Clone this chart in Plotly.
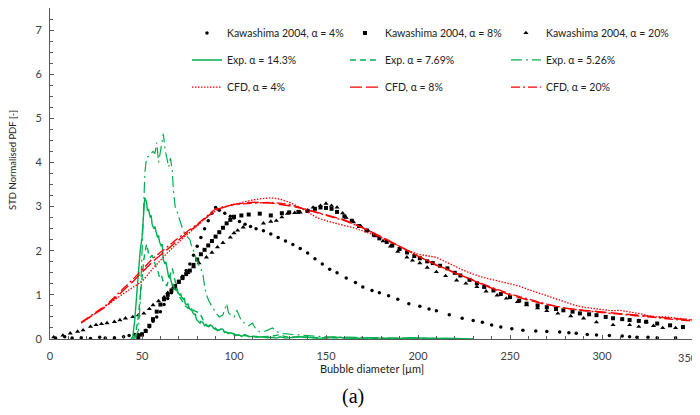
import plotly.graph_objects as go

# ---------------- data ----------------
kaw4 = [(3,0.02),(8,0.05),(12,0.02),(17,0.03),(22,0.01),(27,0.04),(30,0.02),(35,0.03),(40,0.05),
        (43,0.08),(46,0.1),(48,0.1),(50,0.12),(52,0.2),(54,0.28),(56,0.4),(58,0.5),(60,0.62),
        (62,0.78),(64,0.92),(66,1.05),(68,1.15),(70,1.3),(72,1.42),(74,1.55),(76,1.7),(78,1.9),
        (80,2.1),(82,2.3),(84,2.5),(86,2.68),(88,2.85),(90,2.98),(92,2.92),(95,2.85),(98,2.78),
        (100,2.74),(103,2.66),(106,2.6),(109,2.55),(112,2.5),(116,2.45),(120,2.38),(124,2.3),
        (128,2.22),(132,2.14),(136,2.05),(140,1.95),(144,1.82),(148,1.7),(152,1.58),(156,1.5),
        (161,1.38),(166,1.28),(170,1.18),(175,1.1),(179,1.05),(184,0.98),(189,0.9),(195,0.8),
        (201,0.74),(206,0.68),(210,0.64),(217,0.55),(224,0.47),(230,0.42),(235,0.38),(240,0.32),
        (245,0.27),(251,0.23),(257,0.2),(264,0.18),(270,0.17),(277,0.16),(282,0.14),(286,0.13),
        (292,0.1),(297,0.09),(304,0.08),(311,0.07),(315,0.05),(319,0.04),(325,0.04),(330,0.03),
        (340,0.03),(350,0.02)]

kaw8 = [(48,0.04),(50,0.1),(52,0.18),(54,0.3),(56,0.45),(58,0.62),(60,0.78),(62,0.9),(64,1.0),
        (66,1.1),(68,1.2),(70,1.3),(72,1.38),(74,1.47),(76,1.55),(78,1.68),(80,1.8),(82,1.92),
        (84,2.02),(86,2.12),(88,2.22),(90,2.32),(92,2.42),(94,2.52),(96,2.62),(98,2.7),(100,2.77),
        (104,2.8),(108,2.82),(114,2.84),(120,2.8),(126,2.85),(130,2.87),(135,2.88),(140,2.9),
        (144,2.95),(147,2.98),(150,2.97),(153,2.95),(156,2.88),(160,2.78),(164,2.68),(168,2.56),
        (172,2.46),(176,2.36),(179,2.28),(183,2.2),(186,2.12),(190,2.04),(194,1.96),(198,1.88),
        (201,1.83),(205,1.76),(208,1.72),(212,1.66),(216,1.6),(220,1.5),(223,1.44),(228,1.34),
        (232,1.26),(236,1.18),(241,1.1),(245,1.02),(250,0.95),(255,0.87),(259,0.8),(265,0.76),
        (270,0.72),(275,0.68),(279,0.65),(284,0.62),(288,0.58),(293,0.56),(297,0.54),(302,0.5),
        (306,0.47),(311,0.45),(315,0.43),(320,0.41),(324,0.39),(330,0.35),(337,0.31),(344,0.27)]

kaw20 = [(2,0.04),(7,0.08),(11,0.13),(15,0.17),(18,0.2),(22,0.28),(25,0.32),(28,0.34),(31,0.36),
         (35,0.39),(38,0.43),(41,0.47),(45,0.5),(48,0.54),(51,0.58),(54,0.68),(56,0.77),(59,0.86),
         (62,0.95),(64,1.05),(67,1.17),(70,1.28),(72,1.4),(75,1.5),(78,1.63),(81,1.72),(85,1.85),
         (88,1.96),(91,2.08),(94,2.18),(98,2.3),(100,2.4),(102,2.46),(105,2.53),(116,2.62),
         (120,2.66),(123,2.68),(126,2.76),(129,2.84),(133,2.86),(136,2.87),(140,2.92),(143,2.98),
         (147,3.02),(150,3.07),(153,3.02),(156,2.98),(159,2.85),(161,2.75),(165,2.65),(169,2.55),
         (173,2.45),(177,2.33),(181,2.22),(185,2.1),(189,1.98),(194,1.85),(197,1.78),(201,1.72),
         (205,1.62),(210,1.52),(215,1.43),(221,1.33),(226,1.26),(232,1.18),(237,1.08),(243,0.99),
         (248,0.92),(254,0.84),(259,0.77),(265,0.7),(270,0.64),(276,0.58),(283,0.52),(290,0.47),
         (297,0.38),(306,0.32),(315,0.32),(320,0.28),(324,0.39),(328,0.3),(333,0.25),(340,0.25)]

exp143 = [(44,0),(45,0.05),(46,0.4),(47,0.9),(48,1.6),(49,2.0),(50,2.3),(50.7,2.7),(51.5,3.2),
          (52.5,3.1),(53,2.9),(53.5,2.95),(54.5,2.75),(55,2.8),(55.5,2.6),(56.5,2.5),(57,2.55),
          (57.5,2.45),(58.5,2.3),(59,2.35),(59.5,2.2),(60.5,2.1),(61,2.15),(61.5,1.8),(62.5,1.7),
          (63,1.75),(63.5,1.6),(64.5,1.4),(65,1.45),(65.5,1.35),(66.5,1.2),(67,1.25),(67.5,1.15),
          (68.5,1.1),(69,1.13),(69.5,1.05),(70.5,1.0),(71,1.03),(71.5,0.95),(72.5,0.9),(73,0.93),
          (73.5,0.8),(74.5,0.78),(75,0.8),(75.5,0.7),(76.5,0.66),(77,0.68),(77.5,0.6),(78.5,0.55),
          (79,0.57),(79.5,0.45),(80.5,0.4),(81.5,0.36),(82,0.4),(83,0.38),(84,0.3),(85,0.33),
          (86,0.28),(87,0.32),(88,0.3),(89,0.24),(90,0.25),(91,0.19),(92,0.2),(93,0.23),(94,0.22),
          (95,0.15),(96,0.16),(97,0.12),(98,0.14),(100,0.12),(101,0.08),(103,0.09),(104,0.06),
          (106,0.1),(108,0.05),(110,0.06),(112,0.04),(115,0.05),(118,0.03),(120,0.04),(123,0.02),
          (125,0.05),(128,0.02),(130,0.03),(135,0.05),(140,0.04),(145,0.02),(150,0.02),(155,0.04),
          (160,0.03),(165,0.01),(170,0.02),(175,0.03),(180,0.02),(185,0.01),(190,0.01),(195,0.03),
          (200,0.02),(205,0.01),(210,0.01),(215,0.02),(220,0.01),(230,0)]

exp769 = [(45,0),(46.5,0.1),(48,0.5),(49,1.0),(50,1.4),(51,1.8),(52,2.05),(52.5,2.15),(53.5,1.95),
          (54.5,1.85),(55.5,1.9),(56.5,1.75),(57.5,1.65),(58.5,1.55),(59.5,1.4),(60.5,1.45),
          (61.5,1.3),(62.5,1.25),(63.5,1.2),(64.5,1.35),(65.5,1.5),(66.5,1.6),(67.5,1.4),
          (68.5,1.2),(69.5,1.05),(70.5,0.95),(72,0.85),(73.5,0.75),(75,0.7),(76.5,0.72),(78,0.65),
          (80,0.6),(81.5,0.58),(83,0.45),(85,0.3),(87,0.28),(90,0.22),(93,0.18),(97,0.13),
          (100,0.1),(105,0.08),(110,0.06),(115,0.05),(120,0.06),(125,0.1),(128,0.05),(135,0.04),
          (145,0.03),(155,0.03),(165,0.02),(175,0.02),(190,0.01),(210,0.01),(230,0)]

exp526 = [(46,0),(48,0.2),(49,0.8),(50,1.8),(50.7,2.5),(51,3.2),(51.6,3.8),(52.5,4.1),(53.5,4.15),
          (55,4.2),(56,4.25),(57,4.2),(58,4.45),(59,4.0),(60,4.3),(61,4.5),(61.6,4.65),(62.5,4.3),
          (63.5,4.1),(64.5,3.9),(65.5,4.1),(66.5,3.8),(67,3.4),(68,3.0),(69,2.9),(70.5,2.68),
          (72,2.5),(73,2.4),(74,2.35),(76,2.25),(77,2.1),(78,2.0),(79.5,1.8),(81.5,1.63),(83,1.5),
          (84,1.2),(85,1.0),(86.5,0.85),(88.5,0.7),(90,0.6),(92,0.5),(94,0.55),(96,0.8),(97,0.6),
          (98,0.55),(100,0.5),(101.5,0.65),(103,0.5),(104,0.42),(106,0.35),(108,0.3),(110,0.36),
          (112,0.22),(114,0.16),(117,0.18),(121,0.25),(124,0.15),(127,0.12),(132,0.1),(138,0.08),
          (145,0.06),(150,0.05),(160,0.04),(170,0.03),(180,0.03),(190,0.02),(200,0.02),(215,0.01),
          (230,0)]

cfd4 = [(17,0.36),(20,0.45),(25,0.6),(30,0.75),(35,0.9),(40,1.03),(45,1.17),(50,1.3),(56,1.6),
        (63.5,1.94),(70,2.2),(75,2.38),(80,2.55),(85,2.75),(90,2.9),(95,3.0),(100,3.05),(105,3.1),
        (110,3.15),(115,3.18),(120,3.2),(125,3.17),(130,3.1),(135,3.0),(140,2.88),(145,2.75),
        (150,2.68),(155,2.62),(160,2.57),(165,2.52),(170,2.45),(175,2.38),(180,2.3),(185,2.2),
        (190,2.1),(195,2.0),(200,1.92),(205,1.88),(210,1.85),(215,1.75),(220,1.65),(225,1.55),
        (230,1.47),(235,1.4),(240,1.35),(245,1.3),(250,1.25),(255,1.2),(260,1.12),(265,1.05),
        (270,0.97),(275,0.9),(280,0.83),(285,0.77),(290,0.72),(295,0.69),(300,0.66),(305,0.64),
        (310,0.65),(315,0.62),(320,0.58),(325,0.53),(330,0.5),(335,0.5),(340,0.48),(345,0.45),
        (350,0.42)]

cfd8 = [(17,0.37),(30,0.72),(45,1.3),(56,1.76),(63.5,2.02),(70,2.25),(80,2.58),(90,2.93),
        (100,3.05),(110,3.1),(120,3.08),(130,3.02),(140,2.93),(150,2.82),(160,2.7),(170,2.52),
        (180,2.32),(190,2.1),(200,1.88),(210,1.68),(220,1.5),(230,1.33),(240,1.15),(250,1.0),
        (260,0.88),(270,0.78),(280,0.7),(290,0.65),(300,0.61),(310,0.57),(320,0.54),(330,0.5),
        (340,0.46),(350,0.43)]

cfd20 = [(17,0.38),(30,0.75),(45,1.35),(56,1.83),(63.5,2.08),(70,2.3),(80,2.6),(90,2.95),
         (100,3.05),(110,3.08),(120,3.1),(130,3.05),(140,2.92),(150,2.8),(160,2.68),(170,2.52),
         (180,2.3),(190,2.1),(200,1.88),(210,1.67),(220,1.5),(230,1.33),(240,1.17),(250,1.02),
         (260,0.9),(270,0.79),(280,0.7),(290,0.64),(300,0.6),(310,0.56),(320,0.52),(330,0.47),
         (340,0.43),(350,0.4)]

x_ticks = [0, 50, 100, 150, 200, 250, 300, 350]
x_tick_labels = ["0", "50", "100", "150", "200", "250", "300", ""]   # last label drawn as annotation
last_x_label = "350"
y_ticks = [0, 1, 2, 3, 4, 5, 6, 7]
x_title = "Bubble diameter [μm]"
y_title = "STD Normalised PDF [-]"
caption = "(a)"

GREEN = "#00B050"
RED = "#FF0000"
FONT = "Lato"

def xs(d): return [p[0] for p in d]
def ys(d): return [p[1] for p in d]

fig = go.Figure()

# column / row positions of the 9 legend entries (paper coords)
col_x = [0.2127, 0.458, 0.708]
row_y = [0.9245, 0.843, 0.761]

series = [
    ("Kawashima 2004, α = 4%", kaw4, dict(mode="markers", marker=dict(symbol="circle", size=3.5, color="black")), 0, 0),
    ("Kawashima 2004, α = 8%", kaw8, dict(mode="markers", marker=dict(symbol="square", size=4, color="black")), 1, 0),
    ("Kawashima 2004, α = 20%", kaw20, dict(mode="markers", marker=dict(symbol="triangle-up", size=4.5, color="black")), 2, 0),
    ("Exp. α = 14.3%", exp143, dict(mode="lines", line=dict(color=GREEN, width=1.4, dash="solid")), 0, 1),
    ("Exp. α = 7.69%", exp769, dict(mode="lines", line=dict(color=GREEN, width=1.4, dash="6px,4px")), 1, 1),
    ("Exp. α = 5.26%", exp526, dict(mode="lines", line=dict(color=GREEN, width=1.2, dash="11px,4px,2px,4px")), 2, 1),
    ("CFD, α = 4%", cfd4, dict(mode="lines", line=dict(color=RED, width=1.3, dash="1.5px,1.5px")), 0, 2),
    ("CFD, α = 8%", cfd8, dict(mode="lines", line=dict(color=RED, width=1.4, dash="12px,4px")), 1, 2),
    ("CFD, α = 20%", cfd20, dict(mode="lines", line=dict(color=RED, width=1.3, dash="9px,3px,2px,3px")), 2, 2),
]

legend_layouts = {}
for i, (name, d, style, col, row) in enumerate(series):
    lname = "legend" if i == 0 else f"legend{i+1}"
    fig.add_trace(go.Scatter(x=xs(d), y=ys(d), name=name, legend=lname, **style))
    legend_layouts[lname] = dict(
        x=col_x[col], y=row_y[row], xanchor="left", yanchor="middle",
        bgcolor="rgba(0,0,0,0)", borderwidth=0, itemwidth=30,
        font=dict(family=FONT, size=10.5, color="#222"),
    )

# the page adds an 8px body margin, so the figure is drawn 8px smaller
fig.update_layout(
    width=692, height=407,
    margin=dict(l=42, r=6, t=0, b=76, autoexpand=False),
    paper_bgcolor="white", plot_bgcolor="white",
    font=dict(family=FONT, size=11, color="#404040"),
    showlegend=True,
    **legend_layouts,
)

fig.update_xaxes(
    range=[0, 350], tickvals=x_ticks, ticktext=x_tick_labels,
    ticks="inside", ticklen=4, tickcolor="#595959", ticklabelstandoff=7,
    minor=dict(dtick=10, ticks="inside", ticklen=3, tickcolor="#595959"),
    showline=True, linecolor="#595959", linewidth=1, mirror=True,
    showgrid=False, zeroline=False, automargin=False,
    title=dict(text=x_title, font=dict(family=FONT, size=11, color="#222"), standoff=3),
    tickfont=dict(family=FONT, size=11, color="#404040"),
)
fig.update_yaxes(
    range=[0, 7.5], tickvals=y_ticks, ticktext=[str(v) for v in y_ticks],
    ticks="inside", ticklen=4, tickcolor="#595959", ticklabelstandoff=5,
    minor=dict(dtick=0.25, ticks="inside", ticklen=3, tickcolor="#595959"),
    showline=True, linecolor="#595959", linewidth=1, mirror=True,
    showgrid=False, zeroline=False, automargin=False,
    tickfont=dict(family=FONT, size=11, color="#404040"),
)

# y axis title (sits above the plot centre in the reference)
fig.add_annotation(
    text=y_title, xref="paper", yref="paper", x=-0.0575, y=0.541,
    xanchor="center", yanchor="middle", textangle=-90, showarrow=False,
    font=dict(family=FONT, size=9.5, color="#222"),
)

# last x tick label, kept inside the page edge
fig.add_annotation(
    text=last_x_label, xref="x", x=x_ticks[-1], yref="paper", y=0,
    xanchor="right", yanchor="middle", xshift=6, yshift=-18, showarrow=False,
    font=dict(family=FONT, size=11, color="#404040"),
)

fig.add_annotation(
    text=caption, xref="paper", yref="paper", x=0.470, y=-0.175,
    xanchor="center", yanchor="middle", showarrow=False,
    font=dict(family="Liberation Serif", size=20, color="black"),
)

fig.write_html("out.html")
